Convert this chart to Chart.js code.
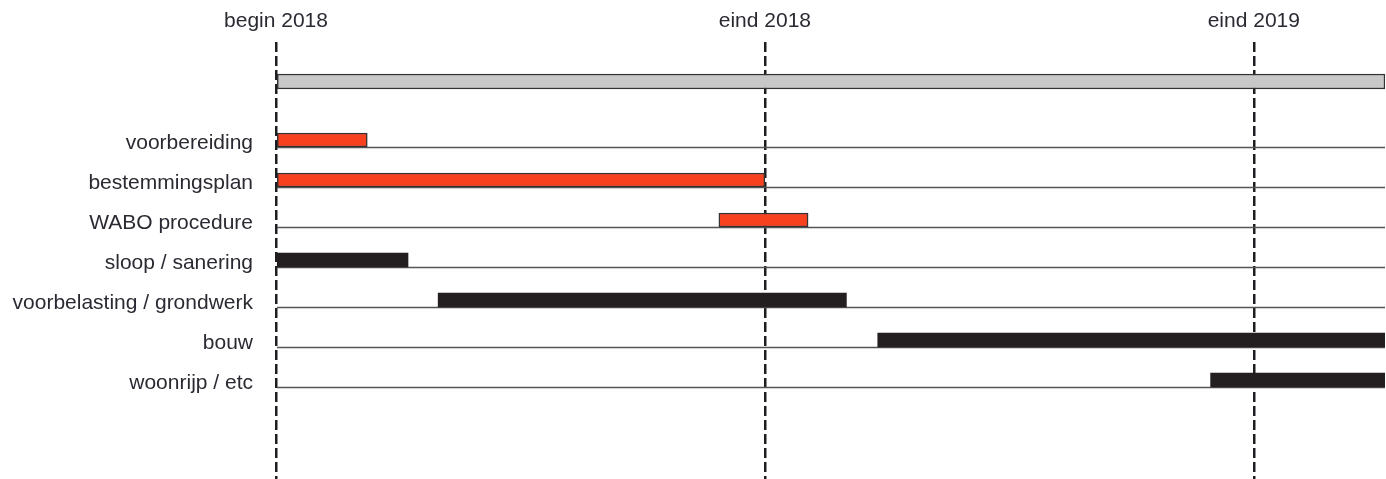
<!DOCTYPE html>
<html>
<head>
<meta charset="utf-8">
<script src="https://cdn.jsdelivr.net/npm/chart.js@4/dist/chart.umd.min.js"></script>
<style>
  html, body { margin: 0; padding: 0; background: #fff; }
  #wrap { width: 1386px; height: 479px; }
</style>
</head>
<body>
<div id="wrap"><canvas id="gantt"></canvas></div>
<script>
// time axis in months from begin 2018
var milestoneMonths = [0, 12, 24]
var milestoneLabels = ['begin 2018', 'eind 2018', 'eind 2019']
var axisEnd = 27.22

// total project bar (grey)
var totalStart = 0
var totalEnd = 27.22

// tasks
var taskNames = ['voorbereiding', 'bestemmingsplan', 'WABO procedure', 'sloop / sanering',
                 'voorbelasting / grondwerk', 'bouw', 'woonrijp / etc']
var taskStart = [0, 0, 10.87, 0, 3.98, 14.77, 22.94]
var taskEnd = [2.24, 12, 13.06, 3.24, 14.0, 27.22, 27.22]
var taskGroup = ['red', 'red', 'red', 'black', 'black', 'black', 'black']

var totalRow = -1.4625
var baseOffset = 0.1875

var redData = [], blackData = [], baseData = []
for (var i = 0; i < taskNames.length; i++) {
    var d = { x: [taskStart[i], taskEnd[i]], y: i }
    if (taskGroup[i] == 'red') redData.push(d)
    else blackData.push(d)
    baseData.push({ x: [0, axisEnd], y: i + baseOffset })
}

var ctx = document.getElementById('gantt').getContext('2d')
new Chart(ctx, {
    type: 'bar',
    data: {
        datasets: [
            {
                label: 'totaal',
                data: [{ x: [totalStart, totalEnd], y: totalRow }],
                backgroundColor: '#c8c8c8',
                borderColor: '#333333',
                borderWidth: 1.5,
                borderSkipped: false,
                barThickness: 15
            },
            {
                label: 'procedure',
                data: redData,
                backgroundColor: '#f7411f',
                borderColor: '#333333',
                borderWidth: 1.5,
                borderSkipped: false,
                barThickness: 14
            },
            {
                label: 'uitvoering',
                data: blackData,
                backgroundColor: '#231f20',
                borderWidth: 0,
                barThickness: 14
            },
            {
                label: 'basis',
                data: baseData,
                backgroundColor: '#555555',
                borderWidth: 0,
                barThickness: 1
            }
        ]
    },
    options: {
        indexAxis: 'y',
        responsive: true,
        maintainAspectRatio: false,
        animation: false,
        grouped: false,
        layout: { padding: { left: 0, right: 1, top: 0, bottom: 0 } },
        plugins: {
            legend: { display: false },
            tooltip: { enabled: false }
        },
        scales: {
            x: {
                type: 'linear',
                position: 'top',
                min: 0,
                max: axisEnd,
                z: 1,
                afterBuildTicks: function(scale) {
                    scale.ticks = milestoneMonths.map(function(v) { return { value: v } })
                },
                afterFit: function(scale) { scale.height = 42 },
                ticks: {
                    padding: 8,
                    color: '#2a2a33',
                    font: { family: 'Liberation Sans, Arial, sans-serif', size: 21 },
                    callback: function(value, index) { return milestoneLabels[index] }
                },
                grid: {
                    drawTicks: false,
                    color: '#1e1e22',
                    lineWidth: 2.5
                },
                border: { display: false, dash: [10, 4] }
            },
            y: {
                type: 'linear',
                reverse: true,
                offset: false,
                min: -2.45,
                max: 8.475,
                afterBuildTicks: function(scale) {
                    scale.ticks = taskNames.map(function(n, i) { return { value: i } })
                },
                afterFit: function(scale) {
                    scale.width = 276
                    // the label padding should not shrink the plot vertically
                    scale.paddingTop = 0
                    scale.paddingBottom = 0
                },
                ticks: {
                    padding: 23,
                    labelOffset: 3,
                    color: '#2a2a33',
                    font: { family: 'Liberation Sans, Arial, sans-serif', size: 21 },
                    callback: function(value, index) { return taskNames[index] }
                },
                grid: { display: false, drawTicks: false },
                border: { display: false }
            }
        }
    }
})
</script>
</body>
</html>
